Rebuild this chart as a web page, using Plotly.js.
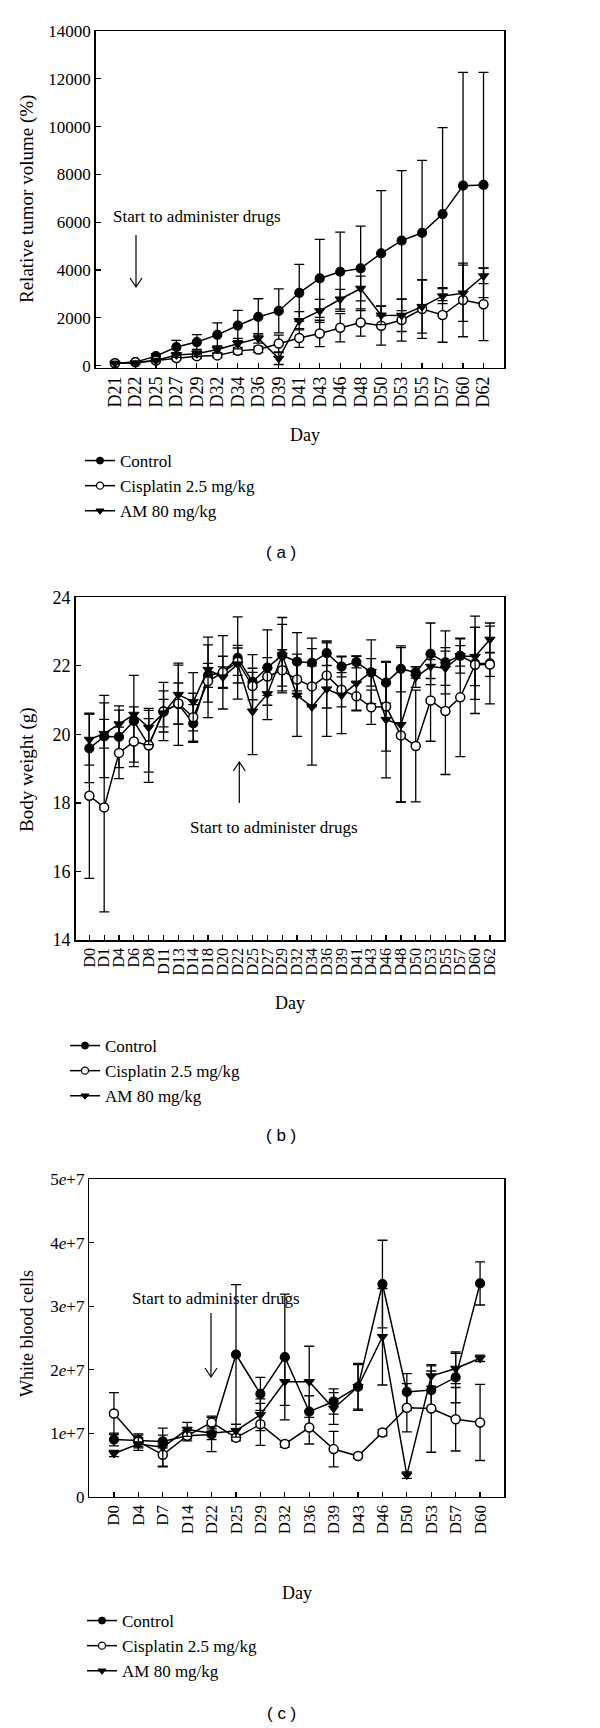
<!DOCTYPE html>
<html><head><meta charset="utf-8">
<script src="https://cdn.plot.ly/plotly-3.0.1.min.js"></script>
<style>html,body{margin:0;padding:0;background:#fff}#chart{width:600px;height:1728px}</style>
</head><body><div id="chart"></div>
<script>
// ---------- Panel (a): relative tumor volume ----------
const daysA = ['D21','D22','D25','D27','D29','D32','D34','D36','D39','D41','D43','D46','D48','D50','D53','D55','D57','D60','D62'];
const controlA    = [100,150,400,780,990,1290,1680,2040,2290,3050,3650,3930,4070,4700,5230,5560,6340,7530,7560];
const controlAErr = [20,40,100,280,310,500,630,760,920,1190,1630,1660,1770,2620,2930,3030,3620,4740,4710];
const cisA        = [100,140,220,320,400,430,620,680,930,1160,1350,1590,1810,1670,1910,2370,2120,2750,2570];
const cisAErr     = [20,30,60,80,100,90,150,130,350,390,550,590,570,810,880,1230,1140,1540,1520];
const amA         = [100,110,220,450,500,680,920,1140,300,1880,2290,2780,3230,2110,2100,2470,2910,3030,3750];
const amAErr      = [20,30,50,100,120,150,220,200,250,380,480,410,520,390,670,1110,310,1180,320];
const tumorTicks  = [0,2000,4000,6000,8000,10000,12000,14000];

// ---------- Panel (b): body weight ----------
const daysB = ['D0','D1','D4','D6','D8','D11','D13','D14','D18','D20','D22','D25','D27','D29','D32','D34','D36','D39','D41','D43','D46','D48','D50','D53','D55','D57','D60','D62'];
const controlB    = [19.59,19.94,19.93,20.39,19.68,20.67,20.88,20.32,21.72,21.81,22.23,21.53,21.95,22.31,22.12,22.09,22.37,21.98,22.11,21.81,21.51,21.91,21.81,22.35,22.10,22.29,22.07,22.07];
const controlBErr = [1.0,1.2,0.9,1.33,0.78,0.85,1.2,0.55,0.35,1.07,1.2,0.8,1.1,1.1,0.85,0.72,0.36,0.3,0.17,0.4,0.6,0.67,0.17,0.9,0.92,0.5,1.05,1.18];
const cisB        = [18.21,17.87,19.46,19.79,19.68,20.67,20.90,20.50,21.55,21.81,22.12,21.41,21.69,21.87,21.60,21.40,21.72,21.30,21.11,20.79,20.81,19.97,19.66,20.99,20.68,21.08,22.03,22.04];
const cisBErr     = [2.41,3.05,0.75,0.6,1.08,0.6,0.6,0.7,1.06,0.47,0.4,0.4,0.55,0.6,0.5,0.6,0.95,0.5,0.4,0.5,1.3,1.95,1.63,1.19,1.85,1.73,1.42,0.35];
const amB         = [19.85,20.02,20.30,20.58,20.20,20.62,21.16,20.95,21.89,21.67,22.05,20.67,21.18,22.31,21.14,20.80,21.32,21.14,21.49,21.83,20.43,20.28,21.67,21.98,21.93,22.29,22.27,22.77];
const amBErr      = [0.75,0.42,0.41,0.22,0.5,0.4,0.86,0.85,0.95,0.3,0.55,1.26,0.75,0.9,1.2,1.7,1.38,1.12,0.8,0.93,1.7,2.25,0.3,0.35,0.5,0.3,0.85,0.39];
const weightTicks = [14,16,18,20,22,24];

// ---------- Panel (c): white blood cells ----------
const daysC = ['D0','D4','D7','D14','D22','D25','D29','D32','D36','D39','D43','D46','D50','D53','D57','D60'];
const controlC    = [0.90e7,0.89e7,0.87e7,0.96e7,0.98e7,2.24e7,1.62e7,2.20e7,1.34e7,1.50e7,1.73e7,3.35e7,1.65e7,1.68e7,1.88e7,3.36e7];
const controlCErr = [0.10e7,0.10e7,0.10e7,0.08e7,0.27e7,1.10e7,0.26e7,0.99e7,0.25e7,0.20e7,0.37e7,0.69e7,0.29e7,0.30e7,0.40e7,0.34e7];
const cisC        = [1.31e7,0.87e7,0.66e7,0.96e7,1.17e7,0.93e7,1.14e7,0.83e7,1.09e7,0.75e7,0.64e7,1.01e7,1.40e7,1.39e7,1.22e7,1.17e7];
const cisCErr     = [0.33e7,0.10e7,0.19e7,0.05e7,0.10e7,0.05e7,0.33e7,0.05e7,0.26e7,0.28e7,0.03e7,0.05e7,0.38e7,0.69e7,0.50e7,0.60e7];
const amC         = [0.68e7,0.83e7,0.78e7,1.06e7,1.00e7,1.04e7,1.29e7,1.81e7,1.81e7,1.39e7,1.73e7,2.52e7,0.34e7,1.90e7,2.02e7,2.18e7];
const amCErr      = [0.05e7,0.10e7,0.30e7,0.11e7,0.10e7,0.10e7,0.25e7,0.37e7,0.56e7,0.25e7,0.35e7,0.76e7,0.05e7,0.16e7,0.24e7,0.05e7];
const wbcTickVals = [0, 1e7, 2e7, 3e7, 4e7, 5e7];
const wbcTickText = ['0','1<i>e</i>+7','2<i>e</i>+7','3<i>e</i>+7','4<i>e</i>+7','5<i>e</i>+7'];

const seriesNames = ['Control', 'Cisplatin 2.5 mg/kg', 'AM 80 mg/kg'];

// ---------- helpers ----------
const W = 600, H = 1728;
const px = x => x / W;
const py = y => 1 - y / H;
const SERIF = 'Liberation Serif, Times New Roman, serif';
const SANS = 'Liberation Sans, Arial, sans-serif';

const styles = [
  {symbol: 'circle', color: 'black', line: {color: 'black', width: 1.2}},
  {symbol: 'circle', color: 'white', line: {color: 'black', width: 1.5}},
  {symbol: 'triangle-down', color: 'black', line: {color: 'black', width: 1}}
];

function mk(x, y, err, i, xa, ya) {
  return {
    type: 'scatter', mode: 'lines+markers',
    x: x, y: y, name: seriesNames[i], showlegend: false,
    xaxis: xa, yaxis: ya,
    line: {color: 'black', width: 1.5},
    marker: {symbol: styles[i].symbol, size: 9, color: styles[i].color, line: styles[i].line},
    error_y: {type: 'data', array: err, visible: true, color: 'black', thickness: 1.3, width: 5},
    cliponaxis: false
  };
}
// legend entries (no data points; smaller symbols like the original key)
function key(i, xa, ya, leg, grp) {
  return {
    type: 'scatter', mode: 'lines+markers', x: [null], y: [null],
    name: seriesNames[i], xaxis: xa, yaxis: ya, legend: leg, legendgroup: grp + i,
    line: {color: 'black', width: 1.5},
    marker: {symbol: styles[i].symbol, size: 7, color: styles[i].color,
             line: {color: 'black', width: i === 1 ? 1.3 : 1}}
  };
}

const traces = [
  mk(daysA, controlA, controlAErr, 0, 'x', 'y'),
  mk(daysA, cisA, cisAErr, 1, 'x', 'y'),
  mk(daysA, amA, amAErr, 2, 'x', 'y'),
  mk(daysB, controlB, controlBErr, 0, 'x2', 'y2'),
  mk(daysB, cisB, cisBErr, 1, 'x2', 'y2'),
  mk(daysB, amB, amBErr, 2, 'x2', 'y2'),
  mk(daysC, controlC, controlCErr, 0, 'x3', 'y3'),
  mk(daysC, cisC, cisCErr, 1, 'x3', 'y3'),
  mk(daysC, amC, amCErr, 2, 'x3', 'y3'),
  key(0, 'x', 'y', 'legend', 'a'), key(1, 'x', 'y', 'legend', 'a'), key(2, 'x', 'y', 'legend', 'a'),
  key(0, 'x2', 'y2', 'legend2', 'b'), key(1, 'x2', 'y2', 'legend2', 'b'), key(2, 'x2', 'y2', 'legend2', 'b'),
  key(0, 'x3', 'y3', 'legend3', 'c'), key(1, 'x3', 'y3', 'legend3', 'c'), key(2, 'x3', 'y3', 'legend3', 'c')
];

function xax(domain, anchor, cats, range, fs) {
  return {
    domain: domain, anchor: anchor, type: 'category',
    categoryorder: 'array', categoryarray: cats,
    tickmode: 'array', tickvals: cats, ticktext: cats,
    range: range, showline: true, mirror: true, linecolor: 'black', linewidth: 1.5,
    ticks: 'inside', ticklen: 5, tickcolor: 'black', tickwidth: 1.2,
    tickangle: -90, tickfont: {family: SERIF, size: fs, color: 'black'},
    showgrid: false, zeroline: false, fixedrange: true
  };
}
function yax(domain, anchor, range, extra, fs) {
  return Object.assign({
    domain: domain, anchor: anchor, range: range,
    showline: true, mirror: true, linecolor: 'black', linewidth: 1.5,
    ticks: 'inside', ticklen: 5, tickcolor: 'black', tickwidth: 1.2,
    tickfont: {family: SERIF, size: fs, color: 'black'},
    showgrid: false, zeroline: false, fixedrange: true
  }, extra);
}
function legend(xp, yp) {
  return {
    x: px(xp), y: py(yp), xanchor: 'left', yanchor: 'top',
    font: {family: SERIF, size: 17, color: 'black'},
    bgcolor: 'rgba(0,0,0,0)', borderwidth: 0, tracegroupgap: 3, traceorder: 'normal',
    itemwidth: 30
  };
}
function txt(text, x, y, size, family, angle) {
  return {text: text, xref: 'paper', yref: 'paper', x: px(x), y: py(y),
    xanchor: 'center', yanchor: 'middle', showarrow: false, textangle: angle || 0,
    font: {family: family || SERIF, size: size, color: 'black'}};
}
function arrow(x, y0, y1) {
  const dir = y1 > y0 ? -1 : 1;
  return [
    {type: 'line', xref: 'paper', yref: 'paper', x0: px(x), x1: px(x), y0: py(y0), y1: py(y1), line: {color: 'black', width: 1.2}},
    {type: 'path', xref: 'paper', yref: 'paper',
     path: 'M ' + px(x - 6) + ' ' + py(y1 + dir * 9) + ' L ' + px(x) + ' ' + py(y1) + ' L ' + px(x + 6) + ' ' + py(y1 + dir * 9),
     line: {color: 'black', width: 1.2}}
  ];
}

const layout = {
  width: W, height: H, margin: {l: 0, r: 0, t: 0, b: 0},
  paper_bgcolor: 'white', plot_bgcolor: 'white', showlegend: true,
  font: {family: SERIF, color: 'black'},
  xaxis:  xax([px(95.7), px(504)], 'y', daysA, [-0.94, 19.0], 18),
  yaxis:  yax([py(367.7), py(31)], 'x', [-84, 14000], {tickmode: 'array', tickvals: tumorTicks, ticktext: tumorTicks.map(String)}, 17),
  xaxis2: xax([px(75.7), px(504.3)], 'y2', daysB, [-0.92, 27.97], 16),
  yaxis2: yax([py(940), py(597.3)], 'x2', [14, 24], {tickmode: 'array', tickvals: weightTicks, ticktext: weightTicks.map(String)}, 18),
  xaxis3: xax([px(89.3), px(504)], 'y3', daysC, [-1.01, 15.98], 17),
  yaxis3: yax([py(1496.7), py(1179.3)], 'x3', [0, 5e7], {tickmode: 'array', tickvals: wbcTickVals, ticktext: wbcTickText}, 17),
  legend:  legend(80, 443),
  legend2: legend(65, 1028),
  legend3: legend(82, 1603),
  annotations: [
    txt('Relative tumor volume (%)', 27, 199, 19, SERIF, -90),
    txt('Day', 305, 435, 18),
    txt('Start to administer drugs', 196.5, 216, 17),
    txt('( a )', 281, 552, 17, SANS),
    txt('Body weight (g)', 27, 770, 19, SERIF, -90),
    txt('Day', 290, 1003, 18),
    txt('Start to administer drugs', 274, 827, 17),
    txt('( b )', 281, 1135, 17, SANS),
    txt('White blood cells', 27, 1334, 18, SERIF, -90),
    txt('Day', 297, 1593, 18),
    txt('Start to administer drugs', 216, 1298, 17),
    txt('( c )', 281, 1713, 17, SANS)
  ],
  shapes: [].concat(arrow(136, 235, 287), arrow(239.3, 803, 762), arrow(211, 1313, 1377))
};

Plotly.newPlot('chart', traces, layout, {displayModeBar: false, staticPlot: true});
</script>
</body></html>
